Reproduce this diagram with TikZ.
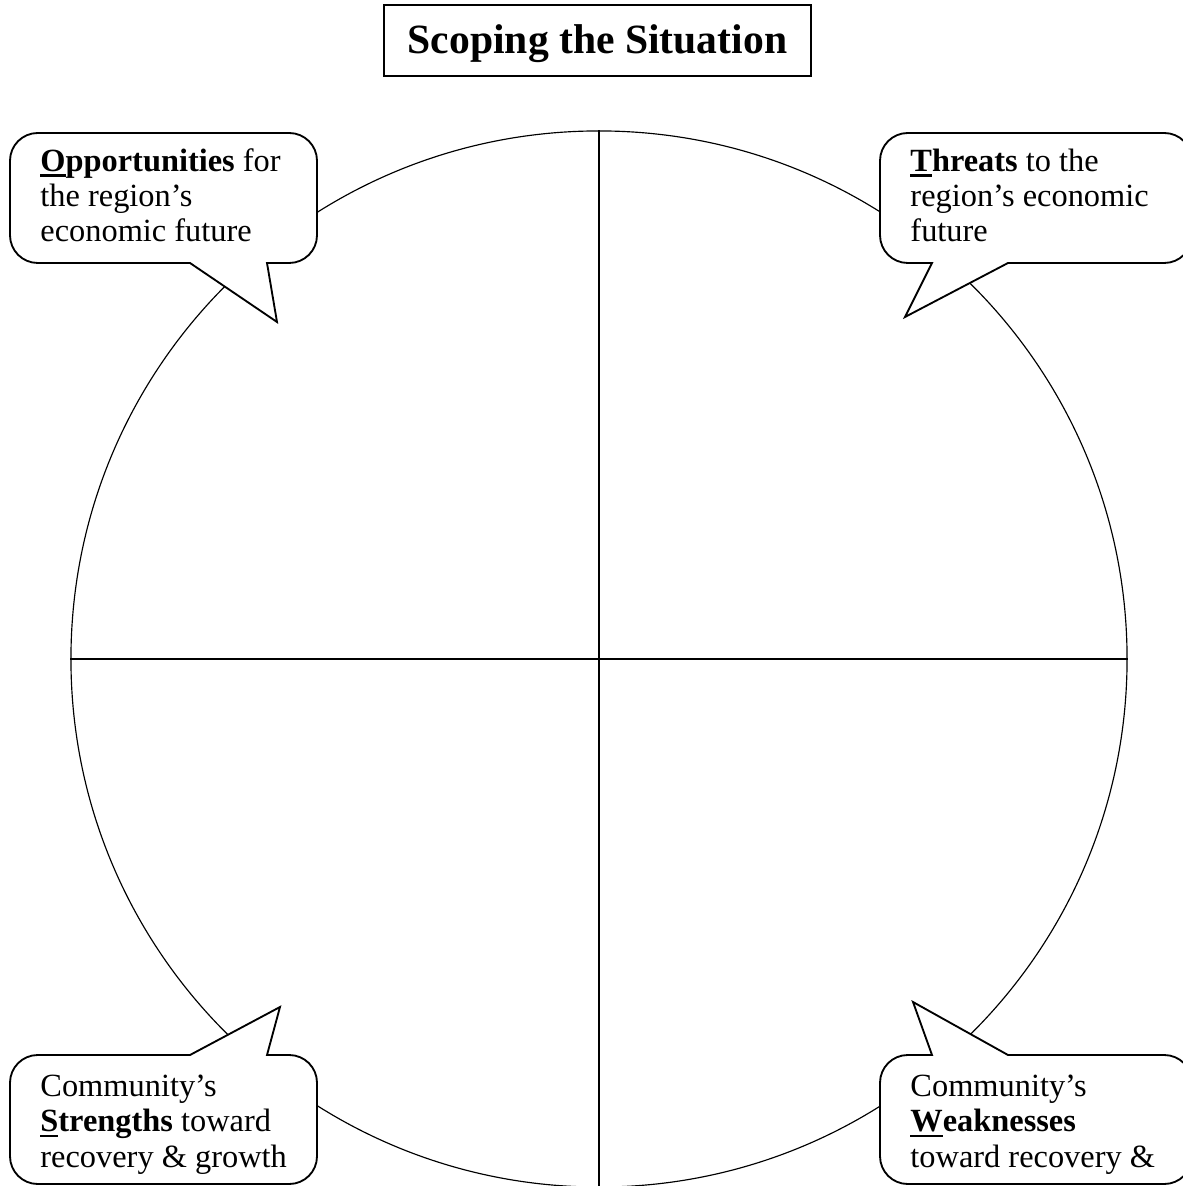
\documentclass[tikz,border=0pt]{standalone}
\usepackage{fontspec}
\setmainfont{Liberation Serif}
\pgfdeclarelayer{bg}
\pgfsetlayers{bg,main}
\newcommand\firstul[1]{\setbox0\hbox{#1}\rlap{\rule[-2.4pt]{\wd0}{1.2pt}}\box0}
\tikzset{
    bubble/.style={draw, fill=white, line width=0.8pt},
    tag/.style={anchor=base west, inner sep=0mm, align=left, font=\fontsize{14}{15.2}\selectfont},
    headbox/.style={draw, line width=0.8pt, minimum width=6.49cm, minimum height=1.08cm, text height=16pt, text depth=4.5pt, font=\fontsize{18}{21}\selectfont\bfseries}
}

\begin{document}
\begin{tikzpicture}[x=0.0152cm, y=-0.0152cm]
        \useasboundingbox (0,0) rectangle (1182,1186);
        \node (head) [headbox] at (597.5,40.5) {Scoping the Situation};
        \begin{pgfonlayer}{bg}
                \node (disk) [circle, draw, line width=0.5pt, minimum size=16.05cm, inner sep=0mm] at (599,659) {};
                \draw [line width=0.6pt] (disk.north) -- (disk.south);
                \draw [line width=0.6pt] (disk.west) -- (disk.east);
        \end{pgfonlayer}
        % speech bubbles
        \draw [bubble] (277,322) -- (267,263) [rounded corners=12pt] -- (317,263) -- (317,133) -- (10,133) -- (10,263) [sharp corners] -- (190,263) -- cycle;
        \draw [bubble] (905,317) -- (932,263) [rounded corners=12pt] -- (880,263) -- (880,133) -- (1192,133) -- (1192,263) [sharp corners] -- (1008,263) -- cycle;
        \draw [bubble] (280,1007) -- (267,1055) [rounded corners=12pt] -- (317,1055) -- (317,1184) -- (10,1184) -- (10,1055) [sharp corners] -- (190,1055) -- cycle;
        \draw [bubble] (913,1002) -- (932,1055) [rounded corners=12pt] -- (880,1055) -- (880,1184) -- (1192,1184) -- (1192,1055) [sharp corners] -- (1008,1055) -- cycle;
        \node (opp) [tag] at (40,242) {\textbf{\firstul{O}pportunities} for\\the region’s\\economic future};
        \node (thr) [tag] at (910,242) {\textbf{\firstul{T}hreats} to the\\region’s economic\\future};
        \node (str) [tag] at (40,1167) {Community’s\\\textbf{\firstul{S}trengths} toward\\recovery \& growth};
        \node (wea) [tag] at (910,1167) {Community’s\\\textbf{\firstul{W}eaknesses}\\toward recovery \&};
\end{tikzpicture}
\end{document}
